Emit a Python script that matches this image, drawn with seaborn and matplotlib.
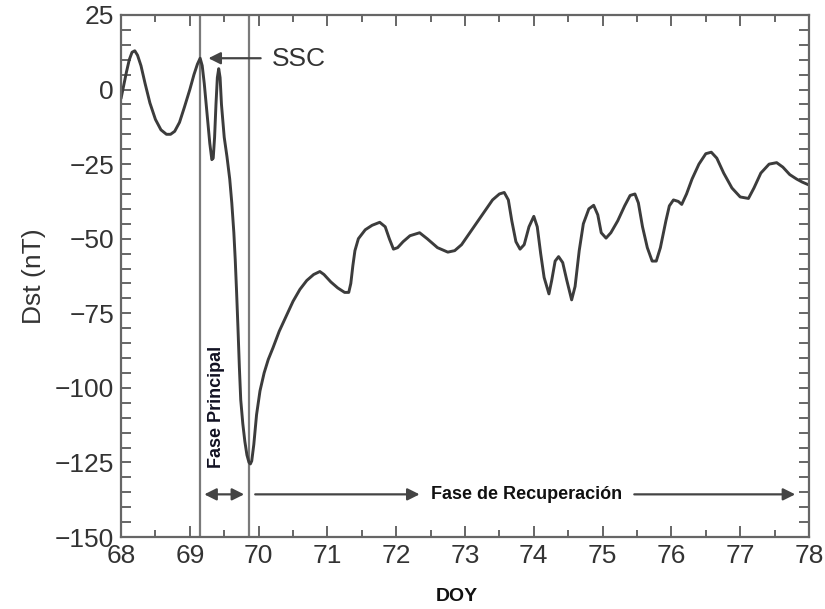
import matplotlib
matplotlib.use("Agg")
import matplotlib.pyplot as plt
import seaborn as sns
import pandas as pd

# ---- data ----
doy = [68.00, 68.04, 68.08, 68.12, 68.16, 68.20, 68.24, 68.29, 68.35, 68.42,
       68.50, 68.58, 68.66, 68.72, 68.78, 68.85, 68.92, 69.00, 69.06, 69.11,
       69.15, 69.18, 69.21, 69.25, 69.29, 69.32, 69.34, 69.36, 69.38, 69.40,
       69.42, 69.44, 69.46, 69.50, 69.54, 69.58, 69.61, 69.64, 69.66, 69.68,
       69.70, 69.72, 69.74, 69.77, 69.80, 69.83, 69.86, 69.88, 69.90, 69.93,
       69.97, 70.02, 70.08, 70.14, 70.21, 70.30, 70.40, 70.50, 70.60, 70.70,
       70.80, 70.89, 70.95, 71.05, 71.15, 71.25, 71.31, 71.34, 71.37, 71.40,
       71.45, 71.55, 71.65, 71.76, 71.84, 71.90, 71.96, 72.02, 72.10, 72.20,
       72.34, 72.45, 72.60, 72.75, 72.85, 72.95, 73.10, 73.25, 73.40, 73.50,
       73.57, 73.63, 73.68, 73.74, 73.80, 73.86, 73.93, 74.00, 74.05, 74.10,
       74.15, 74.22, 74.26, 74.31, 74.36, 74.42, 74.48, 74.55, 74.60, 74.66,
       74.72, 74.80, 74.87, 74.93, 74.98, 75.05, 75.12, 75.22, 75.32, 75.40,
       75.47, 75.52, 75.58, 75.65, 75.72, 75.78, 75.84, 75.92, 75.97, 76.03,
       76.10, 76.15, 76.22, 76.30, 76.40, 76.50, 76.58, 76.66, 76.76, 76.88,
       77.00, 77.12, 77.20, 77.30, 77.42, 77.53, 77.62, 77.72, 77.82, 77.90,
       78.00]
dst = [-3, 1.5, 6, 10, 12.5, 13, 11.5, 8, 2, -4.5,
       -10, -13.5, -15, -15, -14, -11, -6, 0, 5, 8.5,
       10.5, 8, 2, -8, -18, -23.5, -23, -16, -5, 4,
       7, 4, -5, -16, -22.5, -30, -38, -48, -57, -68,
       -80, -93, -104, -112, -118, -122.5, -125, -125.5, -124.5, -119,
       -109, -101, -95, -90.5, -86.5, -81, -76, -71, -67, -64,
       -62, -61, -62, -64.5, -66.5, -68, -68, -65, -59, -54,
       -50, -47, -45.5, -44.5, -46, -50, -53.5, -53, -51, -49,
       -48, -50, -53, -54.5, -54, -52, -47, -42, -37, -35,
       -34.5, -37, -44, -51, -53.5, -52, -46, -42.5, -46, -55,
       -63, -68.5, -64, -57.5, -56, -58, -64, -70.5, -66, -54,
       -45, -40, -38.8, -42, -48, -49.8, -48, -44, -39, -35.5,
       -35, -38, -46, -53, -57.5, -57.5, -53, -44, -39, -37,
       -37.5, -38.5, -35, -30, -25, -21.5, -21, -23, -28, -33,
       -36, -36.5, -33, -28, -25, -24.5, -26, -28.5, -30, -31,
       -32]

phase_lines = [69.15, 69.86]
xticks = [68, 69, 70, 71, 72, 73, 74, 75, 76, 77, 78]
yticks = [25, 0, -25, -50, -75, -100, -125, -150]

df = pd.DataFrame({"DOY": doy, "Dst": dst})

sns.set_style("ticks")
plt.rcParams["font.family"] = ["Liberation Sans", "DejaVu Sans"]

fig = plt.figure(figsize=(8.25, 6.09), dpi=100)
ax = fig.add_axes([0.1467, 0.1182, 0.8339, 0.8572])

sns.lineplot(data=df, x="DOY", y="Dst", ax=ax, color="#3c3c3c", linewidth=2.1)

for xv in phase_lines:
    ax.axvline(xv, color="#7a7a7a", linewidth=1.6, zorder=1)

ax.set_xlim(68, 78)
ax.set_ylim(-150, 25)
ax.set_xticks(xticks)
ax.set_yticks(yticks)
ax.set_xticks([x + 0.5 for x in xticks[:-1]], minor=True)
ax.set_yticks([v for v in range(-150, 26, 5) if v % 25 != 0], minor=True)
ax.tick_params(which="both", direction="in", top=True, right=True,
               color="#666666", width=1.4)
ax.tick_params(which="major", length=8, labelsize=19, labelcolor="#333333", pad=5)
ax.tick_params(which="minor", length=5)
ax.tick_params(axis="y", which="both", length=7)
for s in ax.spines.values():
    s.set_color("#666666")
    s.set_linewidth(1.6)

ax.set_ylabel("Dst (nT)", fontsize=19, color="#333333", labelpad=6)
ax.set_xlabel("DOY", fontsize=14, fontweight="bold", color="#111111")
ax.xaxis.set_label_coords(0.488, -0.097)

arrow_kw = dict(arrowstyle="-|>", color="#444444", lw=1.6, mutation_scale=18)
# SSC
ax.annotate("", xy=(69.23, 10.5), xytext=(70.07, 10.5), arrowprops=arrow_kw)
ax.text(70.19, 10.2, "SSC", fontsize=19, color="#333333", va="center", ha="left")

# Fase Principal
ax.annotate("", xy=(69.17, -135.7), xytext=(69.83, -135.7),
            arrowprops=dict(arrowstyle="<|-|>", color="#444444", lw=1.6, mutation_scale=18))
ax.text(69.39, -106.5, "Fase Principal", rotation=90, fontsize=13, fontweight="bold",
        color="#111122", ha="center", va="center")

# Fase de Recuperación
ax.annotate("", xy=(69.91, -135.7), xytext=(72.38, -135.7),
            arrowprops=dict(arrowstyle="<|-", color="#444444", lw=1.6, mutation_scale=18))
ax.annotate("", xy=(77.84, -135.7), xytext=(75.42, -135.7), arrowprops=arrow_kw)
ax.text(73.90, -135.9, "Fase de Recuperación", fontsize=13, fontweight="bold",
        color="#111111", ha="center", va="center")

fig.savefig("out.png", dpi=100)
